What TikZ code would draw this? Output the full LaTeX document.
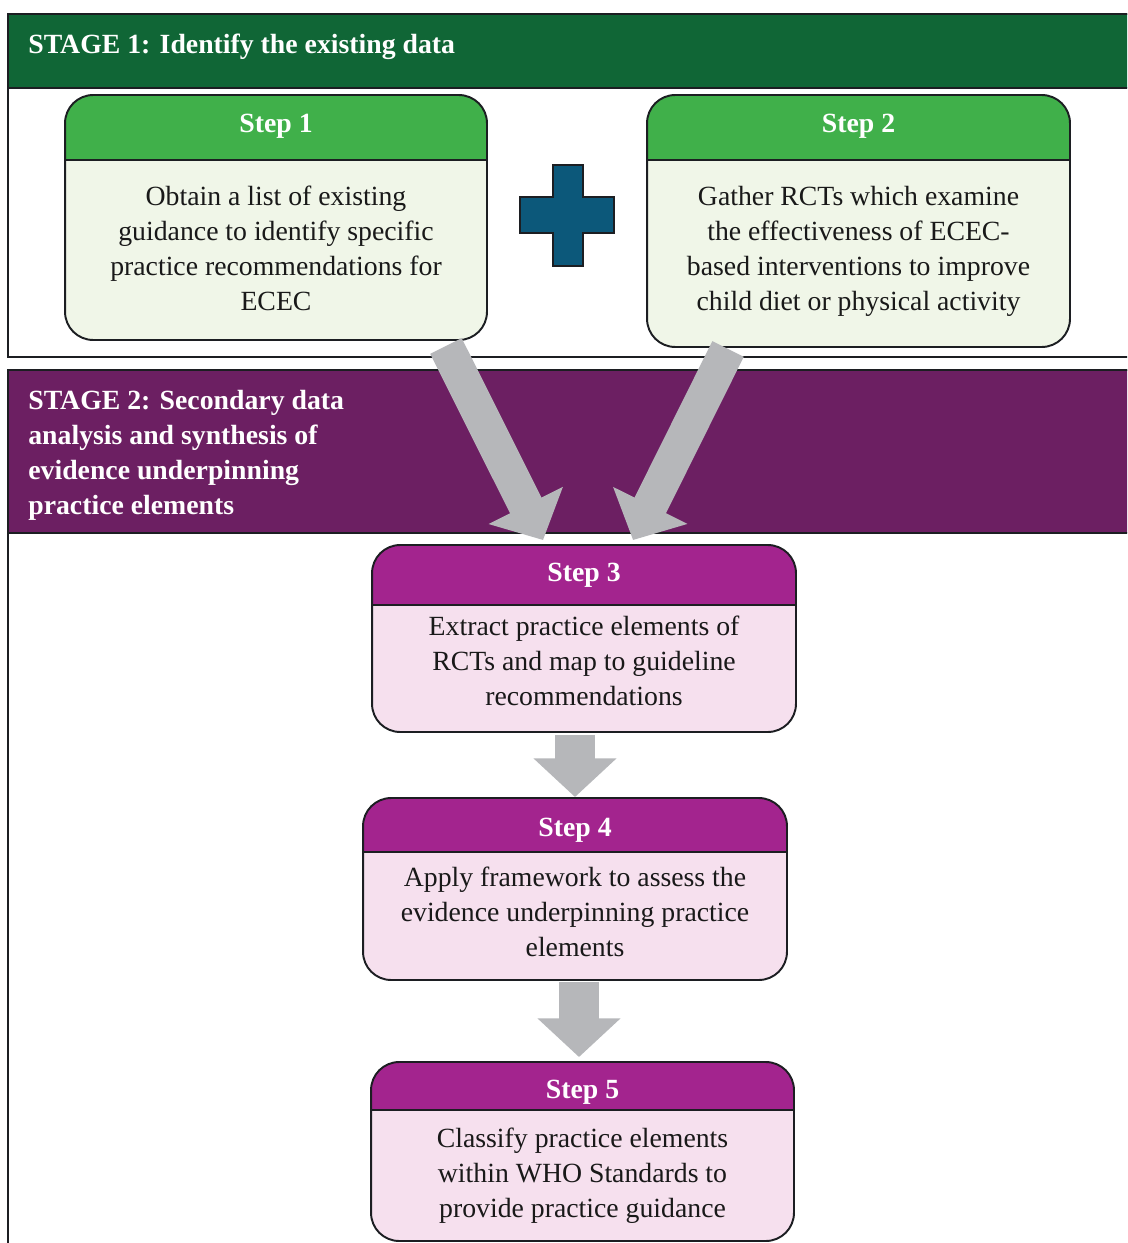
\documentclass[tikz,border=0pt]{standalone}
\usepackage{fontspec}
\setmainfont{Liberation Serif}
\usetikzlibrary{arrows.meta,calc}
\definecolor{stagegreen}{RGB}{16,102,54}
\definecolor{headgreen}{RGB}{64,176,74}
\definecolor{bodygreen}{RGB}{240,246,232}
\definecolor{stagepurple}{RGB}{108,31,98}
\definecolor{headpurple}{RGB}{163,36,142}
\definecolor{bodypink}{RGB}{246,224,238}
\definecolor{plusblue}{RGB}{12,88,122}
\definecolor{arrowgray}{RGB}{182,183,186}
\definecolor{boxline}{RGB}{28,30,34}
\tikzset{
  frameline/.style={draw=boxline, line width=1.1pt},
  stepbox/.style n args={3}{draw=boxline, line width=1.1pt, rounded corners=16pt, outer sep=0pt, inner sep=0pt, fill=#2,
    path picture={
      \fill[#1, sharp corners] (path picture bounding box.north west) rectangle ([yshift=-#3]path picture bounding box.north east);
      \draw[boxline, line width=1.1pt] ([yshift=-#3]path picture bounding box.north west) -- ([yshift=-#3]path picture bounding box.north east);
    }},
  steptitle/.style={text=white, inner sep=0pt, font=\bfseries\fontsize{15.8}{19}\selectfont},
  steptext/.style={text=black!90, align=center, inner sep=0pt, font=\fontsize{15.8}{19.9}\selectfont},
  stagetitle/.style={text=white, align=left, anchor=west, inner sep=0pt, font=\bfseries\fontsize{15.8}{19.9}\selectfont},
  bigarrow/.style={draw=arrowgray, line width=20pt, -{Triangle[width=46pt, length=22pt]}},
}
\begin{document}
\begin{tikzpicture}[x=0.02cm, y=-0.02cm]
  \useasboundingbox (0,0) rectangle (1127,1243);
  \clip (0,0) rectangle (1127,1243);
  \fill[white] (0,0) rectangle (1127,1243);

  % stage frames
  \draw[frameline, fill=white] (8,14) rectangle (1140,357);
  \filldraw[frameline, fill=stagegreen] (8,14) rectangle (1140,88);
  \draw[frameline, fill=white] (8,370) rectangle (1140,1270);
  \filldraw[frameline, fill=stagepurple] (8,370) rectangle (1140,533);
  \node[stagetitle] (stage1) at (28,47) {STAGE 1: Identify the existing data};
  \node[stagetitle] (stage2) at (28,455) {STAGE 2: Secondary data\\analysis and synthesis of\\evidence underpinning\\practice elements};

  % stage 1 steps
  \node[stepbox={headgreen}{bodygreen}{1.3cm}, minimum width=8.44cm, minimum height=4.9cm] (s1) at (276,217.5) {};
  \node[steptitle] (s1t) at ($(s1.north)+(0,31)$) {Step 1};
  \node[steptext] (s1b) at ($(s1.center)+(0,31)$) {Obtain a list of existing\\guidance to identify specific\\practice recommendations for\\ECEC};
  \node[stepbox={headgreen}{bodygreen}{1.3cm}, minimum width=8.46cm, minimum height=5.04cm] (s2) at (858.5,221) {};
  \node[steptitle] (s2t) at ($(s2.north)+(0,31)$) {Step 2};
  \node[steptext] (s2b) at ($(s2.center)+(0,30)$) {Gather RCTs which examine\\the effectiveness of ECEC-\\based interventions to improve\\child diet or physical activity};
  \filldraw[fill=plusblue, draw=boxline, line width=0.8pt] (553,165) -- (583,165) -- (583,197) -- (614,197) -- (614,233) -- (583,233)
    -- (583,266) -- (553,266) -- (553,233) -- (520,233) -- (520,197) -- (553,197) -- cycle;

  % stage 2 steps
  \node[stepbox={headpurple}{bodypink}{1.2cm}, minimum width=8.48cm, minimum height=3.74cm] (s3) at (584,638.5) {};
  \node[steptitle] (s3t) at ($(s3.north)+(0,30)$) {Step 3};
  \node[steptext] (s3b) at ($(s3.center)+(0,22.5)$) {Extract practice elements of\\RCTs and map to guideline\\recommendations};
  \node[stepbox={headpurple}{bodypink}{1.08cm}, minimum width=8.48cm, minimum height=3.64cm] (s4) at (575,889) {};
  \node[steptitle] (s4t) at ($(s4.north)+(0,32)$) {Step 4};
  \node[steptext] (s4b) at ($(s4.center)+(0,23)$) {Apply framework to assess the\\evidence underpinning practice\\elements};
  \node[stepbox={headpurple}{bodypink}{0.96cm}, minimum width=8.46cm, minimum height=3.58cm] (s5) at (582.5,1151.5) {};
  \node[steptitle] (s5t) at ($(s5.north)+(0,30)$) {Step 5};
  \node[steptext] (s5b) at ($(s5.center)+(0,24)$) {Classify practice elements\\within WHO Standards to\\provide practice guidance};

  % arrows
  \draw[bigarrow] ($(s1.south east)+(-41,6)$) -- ($(s3.north west)+(171,-5)$);
  \draw[bigarrow] ($(s2.south west)+(81,2)$) -- ($(s3.north west)+(261,-5)$);
  \draw[bigarrow, line width=23pt] ($(s4.north |- s3.south)+(0,3)$) -- ($(s4.north)+(0,-1)$);
  \draw[bigarrow, line width=23pt] ($(s4.south)+(4,2)$) -- ($(s5.north)+(-3.5,-5)$);
\end{tikzpicture}
\end{document}
